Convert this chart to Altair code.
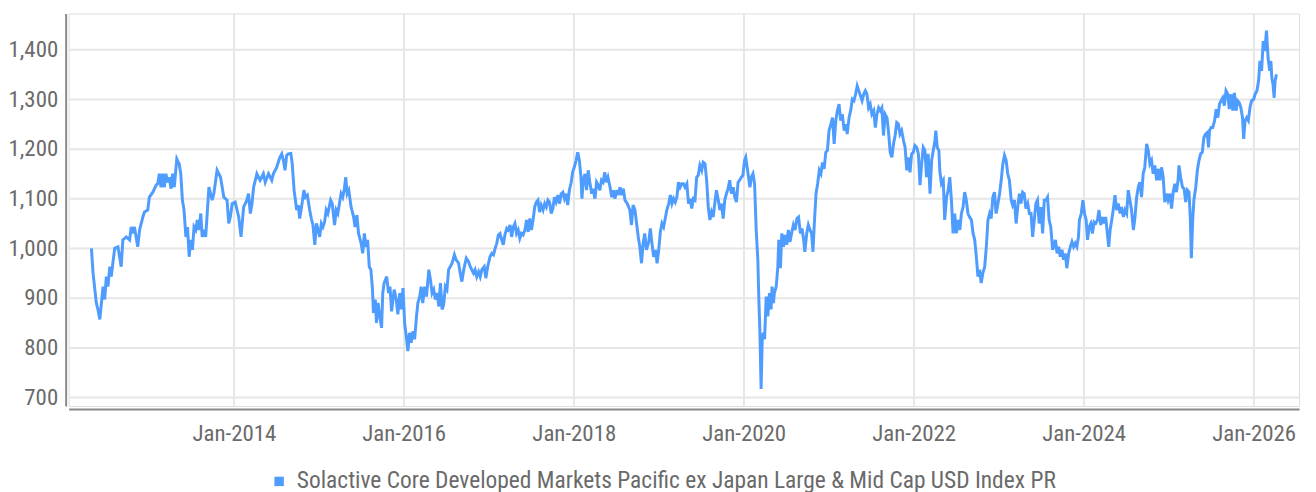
import altair as alt
import pandas as pd

SERIES = "Solactive Core Developed Markets Pacific ex Japan Large & Mid Cap USD Index PR"

years = [
2012.326,2012.346,2012.385,2012.404,2012.424,2012.443,2012.463,2012.482,2012.502,2012.521,2012.541,2012.560,2012.599,2012.638,2012.657,2012.677,2012.696,2012.735,2012.774,2012.794,2012.813,2012.833,2012.852,2012.871,2012.891,2012.930,2012.949,2012.988,2013.008,2013.047,2013.085,2013.105,2013.124,2013.144,2013.163,2013.183,2013.202,2013.222,2013.241,2013.261,2013.280,2013.299,2013.331,2013.358,2013.377,2013.397,2013.416,2013.436,2013.455,2013.475,2013.494,2013.514,2013.533,2013.552,2013.572,2013.591,2013.611,2013.630,2013.650,2013.669,2013.708,2013.747,2013.766,2013.805,2013.844,2013.883,2013.922,2013.942,2013.961,2013.981,2014.019,2014.039,2014.058,2014.086,2014.117,2014.156,2014.175,2014.195,2014.214,2014.234,2014.273,2014.311,2014.350,2014.370,2014.409,2014.448,2014.467,2014.506,
2014.545,2014.565,2014.584,2014.603,2014.623,2014.642,2014.673,2014.689,2014.712,2014.740,2014.759,2014.778,2014.798,2014.825,2014.845,2014.868,2014.895,2014.915,2014.934,2014.954,2014.973,2014.993,2015.012,2015.031,2015.051,2015.070,2015.090,2015.109,2015.140,2015.160,2015.187,2015.207,2015.226,2015.246,2015.265,2015.284,2015.304,2015.319,2015.335,2015.354,2015.382,2015.413,2015.428,2015.452,2015.471,2015.499,2015.518,2015.537,2015.557,2015.576,2015.596,2015.615,2015.635,2015.646,2015.666,2015.681,2015.701,2015.720,2015.740,2015.755,2015.771,2015.802,2015.822,2015.841,2015.860,2015.888,2015.915,2015.934,2015.954,2015.973,2015.993,2016.012,2016.032,2016.051,2016.071,2016.090,2016.110,2016.129,2016.152,2016.168,2016.191,2016.207,2016.226,2016.246,2016.269,2016.296,2016.316,2016.335,2016.355,2016.374,2016.394,2016.413,2016.433,2016.452,2016.471,2016.491,2016.510,2016.530,2016.549,2016.569,2016.596,2016.615,2016.646,2016.666,2016.685,2016.705,2016.736,2016.763,2016.783,
2016.821,2016.841,2016.860,2016.880,2016.899,2016.919,2016.946,2016.965,2016.989,2017.016,2017.036,2017.055,2017.074,2017.094,2017.113,2017.133,2017.152,2017.172,2017.191,2017.211,2017.230,2017.250,2017.269,2017.288,2017.308,2017.327,2017.347,2017.366,2017.386,2017.405,2017.425,2017.444,2017.464,2017.483,2017.503,2017.522,2017.541,2017.561,2017.580,2017.600,2017.619,2017.639,2017.658,2017.678,2017.697,2017.717,2017.736,2017.755,2017.775,2017.794,2017.814,2017.833,2017.853,2017.872,2017.892,2017.911,2017.931,2017.950,2017.970,2017.989,2018.008,2018.028,2018.047,2018.067,2018.086,2018.098,2018.114,2018.133,2018.152,2018.172,2018.191,2018.211,2018.230,2018.250,2018.269,2018.289,2018.308,2018.328,2018.347,2018.367,2018.386,2018.405,2018.429,2018.448,2018.468,2018.487,2018.507,2018.526,2018.546,2018.565,2018.584,2018.604,2018.631,2018.662,2018.682,2018.701,2018.721,2018.740,2018.760,2018.779,2018.798,2018.818,2018.837,2018.857,2018.884,2018.904,2018.923,2018.942,2018.962,2018.981,2019.001,2019.020,2019.040,2019.059,2019.079,
2019.098,2019.118,2019.137,2019.157,2019.176,2019.196,2019.215,2019.234,2019.254,2019.273,2019.293,2019.312,2019.332,2019.351,2019.371,2019.390,2019.410,2019.429,2019.449,2019.468,2019.487,2019.507,2019.526,2019.546,2019.565,2019.585,2019.604,2019.624,2019.643,2019.663,2019.682,2019.702,2019.721,2019.740,2019.760,2019.779,2019.799,2019.818,2019.838,2019.857,2019.877,2019.896,2019.916,2019.935,2019.954,2019.974,2019.993,2020.013,2020.025,2020.044,2020.060,2020.075,2020.091,2020.110,2020.130,2020.149,2020.169,2020.180,2020.192,2020.207,2020.219,2020.231,2020.246,2020.266,2020.285,2020.305,2020.324,2020.336,2020.351,2020.363,2020.383,2020.402,2020.414,2020.433,2020.449,2020.468,2020.488,2020.507,2020.527,2020.546,2020.565,2020.585,2020.604,2020.628,2020.647,2020.667,2020.686,2020.706,2020.721,2020.741,2020.760,2020.780,2020.799,2020.815,2020.830,2020.850,2020.869,2020.889,2020.908,2020.928,2020.947,2020.967,2020.986,2021.005,2021.025,2021.044,2021.064,2021.083,2021.103,2021.122,2021.142,2021.161,2021.181,2021.200,2021.219,2021.239,2021.258,2021.278,2021.297,2021.317,2021.336,
2021.392,2021.412,2021.431,2021.451,2021.470,2021.490,2021.509,2021.529,2021.548,2021.568,2021.587,2021.607,2021.626,2021.646,2021.665,2021.685,2021.704,2021.724,2021.743,2021.763,2021.782,2021.802,2021.821,2021.841,2021.860,2021.880,2021.899,2021.919,2021.938,2021.958,2021.977,2021.997,2022.016,2022.036,2022.055,2022.075,2022.094,2022.114,2022.133,2022.153,2022.172,2022.192,2022.211,2022.231,2022.250,2022.262,2022.278,2022.297,2022.309,2022.328,2022.348,2022.367,2022.387,2022.406,2022.426,2022.445,2022.465,2022.484,2022.504,2022.524,2022.543,2022.563,2022.582,2022.602,2022.621,2022.641,2022.660,2022.680,2022.699,2022.719,2022.738,2022.758,2022.777,2022.797,2022.816,2022.836,2022.855,2022.875,2022.894,2022.914,2022.933,2022.953,2022.972,2022.992,2023.011,2023.031,2023.050,2023.070,2023.089,2023.109,2023.128,2023.148,2023.167,2023.187,2023.206,2023.226,2023.245,2023.265,2023.284,2023.304,2023.323,2023.343,2023.362,2023.382,2023.401,2023.421,2023.440,2023.460,2023.479,2023.499,2023.519,2023.538,2023.558,2023.577,2023.597,2023.616,2023.636,
2023.669,2023.688,2023.708,2023.727,2023.747,2023.766,2023.786,2023.805,2023.825,2023.844,2023.864,2023.883,2023.903,2023.922,2023.942,2023.953,2023.973,2023.992,2024.012,2024.031,2024.047,2024.066,2024.086,2024.105,2024.125,2024.144,2024.164,2024.183,2024.203,2024.222,2024.242,2024.261,2024.281,2024.296,2024.312,2024.331,2024.351,2024.370,2024.390,2024.409,2024.429,2024.448,2024.468,2024.487,2024.507,2024.526,2024.546,2024.565,2024.585,2024.604,2024.624,2024.643,2024.663,2024.682,2024.702,2024.721,2024.741,2024.760,2024.780,2024.799,2024.819,2024.838,2024.858,2024.877,2024.897,2024.916,2024.936,2024.955,2024.975,2024.994,2025.014,2025.033,2025.053,2025.072,2025.092,2025.111,2025.123,2025.142,2025.162,2025.181,2025.201,2025.220,2025.240,2025.255,2025.267,2025.283,2025.298,2025.318,2025.337,2025.357,2025.376,2025.396,2025.415,2025.435,2025.454,2025.470,2025.481,2025.501,2025.520,2025.540,2025.559,2025.579,2025.598,2025.618,2025.637,2025.657,2025.676,2025.696,2025.715,2025.735,2025.754,2025.774,2025.793,2025.813,2025.832,2025.852,2025.871,2025.883,2025.899,2025.918,2025.938,2025.957,2025.977,2026.000,2026.019,2026.039,2026.058,2026.074,2026.094,2026.113,2026.133,2026.152,2026.172,2026.191,2026.203,2026.214,2026.230,2026.242,2026.253,2026.269,
]

values = [
1000,950,890,877,857,890,923,897,943,923,963,943,1000,1003,983,963,1017,1023,1017,1043,1030,1043,1023,1003,1037,1063,1073,1077,1103,1113,1127,1130,1150,1123,1150,1123,1150,1133,1143,1120,1150,1123,1180,1170,1150,1097,1077,1023,1043,983,1017,997,1043,1037,1057,1037,1070,1023,1037,1023,1123,1097,1110,1157,1143,1103,1097,1050,1063,1090,1093,1077,1063,1023,1083,1097,1110,1070,1090,1123,1150,1137,1150,1133,1150,1137,1150,1163,
1183,1190,1177,1157,1187,1190,1191,1170,1117,1077,1087,1060,1083,1117,1103,1107,1077,1060,1047,1007,1050,1037,1023,1050,1043,1053,1077,1070,1097,1090,1047,1077,1070,1090,1110,1103,1120,1143,1110,1117,1083,1063,1043,1067,1030,1010,990,1030,1003,1017,963,957,917,870,897,850,890,863,840,910,930,943,910,923,873,917,897,867,910,877,920,850,823,793,830,810,833,817,863,890,903,923,890,923,903,957,937,910,917,897,910,883,930,877,887,923,917,957,963,970,987,977,970,950,933,957,980,973,963,
950,957,943,953,943,957,963,940,963,983,990,987,1000,1010,1027,1030,1017,1007,1027,1040,1037,1047,1023,1043,1050,1030,1037,1020,1030,1027,1037,1057,1033,1060,1037,1057,1083,1093,1097,1073,1087,1077,1090,1083,1097,1093,1070,1080,1103,1093,1107,1090,1110,1113,1100,1110,1087,1117,1133,1153,1163,1177,1193,1177,1143,1100,1137,1150,1117,1157,1133,1110,1120,1100,1133,1127,1117,1137,1133,1153,1133,1143,1123,1103,1117,1100,1117,1107,1123,1107,1120,1097,1090,1077,1047,1087,1077,1050,1023,1003,970,1010,1030,997,1013,1040,1010,983,997,970,997,1033,1050,1043,1060,
1077,1090,1107,1090,1100,1093,1103,1133,1123,1130,1130,1123,1130,1090,1100,1080,1100,1097,1143,1147,1167,1157,1173,1170,1137,1083,1057,1073,1063,1090,1117,1097,1077,1090,1060,1097,1110,1120,1137,1110,1123,1103,1093,1133,1137,1143,1147,1177,1183,1160,1143,1123,1143,1150,1130,1037,977,903,830,717,817,830,817,903,863,910,877,923,890,910,923,963,1017,960,1030,1003,1027,1007,1037,1013,1030,1047,1037,1060,1063,1030,1040,1017,993,1030,1047,1037,1030,993,1043,1110,1130,1157,1150,1173,1160,1193,1197,1237,1250,1263,1210,1257,1277,1290,1257,1270,1237,1250,1230,1263,1277,1300,1297,1310,1327,
1297,1310,1317,1310,1283,1290,1270,1277,1243,1270,1283,1277,1283,1227,1270,1263,1237,1193,1183,1210,1227,1253,1250,1230,1237,1217,1203,1157,1183,1153,1190,1193,1207,1203,1190,1127,1170,1203,1197,1143,1190,1110,1177,1197,1217,1237,1203,1197,1157,1130,1137,1057,1103,1117,1143,1097,1030,1070,1030,1057,1037,1070,1083,1113,1097,1070,1063,1057,1030,1017,983,943,957,930,950,963,1003,1057,1070,1060,1103,1113,1070,1090,1110,1137,1170,1187,1177,1150,1137,1097,1087,1097,1050,1083,1110,1090,1113,1110,1080,1090,1070,1070,1023,1057,1090,1097,1050,1083,1030,1097,1097,1103,1057,1043,997,
1017,990,1003,983,997,977,990,960,990,1003,1013,1003,1010,1003,1023,1057,1070,1097,1070,1057,1017,1043,1050,1030,1053,1050,1057,1077,1047,1063,1050,1063,1030,1003,1037,1057,1080,1107,1077,1090,1070,1083,1063,1077,1070,1117,1097,1077,1037,1063,1103,1123,1133,1103,1150,1163,1210,1197,1170,1177,1150,1167,1137,1160,1137,1163,1143,1093,1110,1097,1110,1080,1113,1130,1113,1137,1167,1143,1123,1120,1093,1117,1113,1057,980,1057,1097,1123,1157,1177,1190,1193,1223,1230,1233,1203,1237,1243,1243,1257,1280,1263,1290,1297,1303,1287,1317,1310,1280,1310,1277,1313,1277,1297,1293,1283,1263,1220,1257,1263,1257,1283,1297,1300,1310,1317,1337,1377,1357,1417,1397,1438,1383,1357,1377,1343,1330,1303,1337,1350,
]

tick_years = [2014, 2016, 2018, 2020, 2022, 2024, 2026]
y_ticks = [700, 800, 900, 1000, 1100, 1200, 1300, 1400]


def to_date(y):
    yr = int(y)
    start = pd.Timestamp(year=yr, month=1, day=1)
    nxt = pd.Timestamp(year=yr + 1, month=1, day=1)
    return start + (nxt - start) * (y - yr)


df = pd.DataFrame({
    "date": [to_date(y).strftime("%Y-%m-%d") for y in years],
    "value": values,
    "series": SERIES,
})

FONT = "Roboto Condensed, Liberation Sans Narrow, DejaVu Sans Condensed, Roboto"
TXT = "#6a6a6a"
BLUE = "#4f9cff"

chart = alt.Chart(df).mark_line(strokeWidth=3, interpolate="linear").encode(
    x=alt.X(
        "date:T",
        title=None,
        scale=alt.Scale(domain=[alt.DateTime(year=2012, month=1, date=22),
                                alt.DateTime(year=2026, month=7, date=15)]),
        axis=alt.Axis(
            values=[alt.DateTime(year=y, month=1, date=1) for y in tick_years],
            format="%b-%Y",
            grid=True, gridColor="#e6e6e6", gridWidth=2,
            ticks=False, domainColor="#8a8a8a", domainWidth=2,
            offset=3, labelPadding=14,
            labelFont=FONT, labelFontSize=23, labelColor=TXT,
        ),
    ),
    y=alt.Y(
        "value:Q",
        title=None,
        scale=alt.Scale(domain=[682.6, 1472.6], nice=False, zero=False),
        axis=alt.Axis(
            values=y_ticks, format=",d",
            grid=True, gridColor="#e6e6e6", gridWidth=2,
            ticks=False, domainColor="#8a8a8a", domainWidth=2,
            offset=3, labelPadding=8,
            labelFont=FONT, labelFontSize=23, labelColor=TXT,
        ),
    ),
    color=alt.Color(
        "series:N",
        scale=alt.Scale(range=[BLUE]),
        legend=alt.Legend(
            title=None, orient="none", legendX=200, legendY=459,
            symbolType="square", symbolSize=90, symbolStrokeWidth=0,
            symbolFillColor=BLUE, symbolOpacity=1,
            labelOffset=6, labelFont=FONT, labelFontSize=23.6,
            labelColor=TXT, labelLimit=2000, padding=0,
        ),
    ),
).properties(
    width=1238,
    height=395,
    autosize=alt.AutoSizeParams(type="none"),
    padding={"left": 61, "top": 4, "right": 9, "bottom": 90},
).configure_view(stroke=None).configure(background="white")

chart.save("out.html", embed_options={"renderer": "svg", "actions": False})
